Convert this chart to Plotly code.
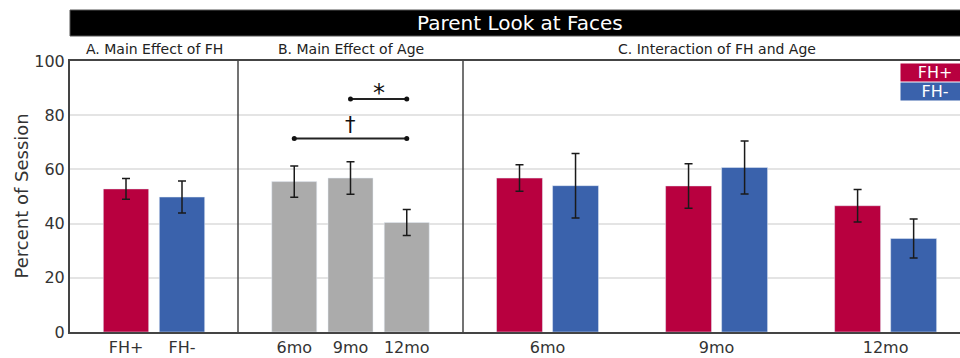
import plotly.graph_objects as go

# ---- data ----
fh_groups = ["FH+", "FH-"]
fh_means = [52.8, 49.8]
fh_errs = [3.8, 5.9]

ages = ["6mo", "9mo", "12mo"]
age_means = [55.5, 56.8, 40.4]
age_errs = [5.8, 6.0, 4.8]

fhpos_means = [56.8, 53.9, 46.6]
fhpos_errs = [4.9, 8.2, 6.0]
fhneg_means = [54.0, 60.7, 34.5]
fhneg_errs = [11.9, 9.8, 7.2]

sig_dagger = ["6mo", "12mo"]
sig_dagger_y = 71.4
sig_star = ["9mo", "12mo"]
sig_star_y = 86.0

panel_titles = ["A. Main Effect of FH", "B. Main Effect of Age", "C. Interaction of FH and Age"]
main_title = "Parent Look at Faces"
y_title = "Percent of Session"

RED = "#B8003F"
BLUE = "#3A62AC"
GRAY = "#ABABAB"
FONT = "DejaVu Sans"
TXT = "#333333"
LINE = "#444444"

err_style = dict(type="data", color="#1a1a1a", thickness=1.5, width=4)
bar_line = dict(color="#E5ECF6", width=0.5)

fig = go.Figure()

# Panel A
fig.add_trace(go.Bar(x=fh_groups, y=fh_means, width=0.81,
                     marker=dict(color=[RED, BLUE], line=bar_line),
                     error_y=dict(array=fh_errs, **err_style),
                     xaxis="x", yaxis="y", showlegend=False))
# Panel B
fig.add_trace(go.Bar(x=ages, y=age_means, width=0.8,
                     marker=dict(color=GRAY, line=bar_line),
                     error_y=dict(array=age_errs, **err_style),
                     xaxis="x2", yaxis="y", showlegend=False))
# significance brackets
fig.add_trace(go.Scatter(x=sig_dagger, y=[sig_dagger_y] * 2, mode="lines+markers",
                         line=dict(color="#222", width=2), marker=dict(color="#111", size=5),
                         xaxis="x2", yaxis="y", showlegend=False, hoverinfo="skip"))
fig.add_trace(go.Scatter(x=sig_star, y=[sig_star_y] * 2, mode="lines+markers",
                         line=dict(color="#222", width=2), marker=dict(color="#111", size=5),
                         xaxis="x2", yaxis="y", showlegend=False, hoverinfo="skip"))
# Panel C
fig.add_trace(go.Bar(x=ages, y=fhpos_means, name="FH+",
                     marker=dict(color=RED, line=bar_line),
                     error_y=dict(array=fhpos_errs, **err_style),
                     xaxis="x3", yaxis="y", showlegend=False))
fig.add_trace(go.Bar(x=ages, y=fhneg_means, name="FH-",
                     marker=dict(color=BLUE, line=bar_line),
                     error_y=dict(array=fhneg_errs, **err_style),
                     xaxis="x3", yaxis="y", showlegend=False))

W, H = 960, 358
ml, mt, mb = 70, 61, 26
pw = W - ml
ph = H - mt - mb
def px2x(px):
    return (px - ml) / pw
def px2y(py):
    return (H - mb - py) / ph

dA = [0, px2x(238)]
dB = [px2x(238), px2x(463)]
dC = [px2x(463), 1]

xcommon = dict(showline=True, linecolor=LINE, linewidth=2, mirror=True, ticks="",
               showgrid=False, zeroline=False, type="category",
               tickfont=dict(family=FONT, size=16, color=TXT), fixedrange=True)

fig.update_layout(
    width=W, height=H,
    margin=dict(l=ml, r=0, t=mt, b=mb, pad=0),
    paper_bgcolor="white", plot_bgcolor="white",
    barmode="group", bargap=0.337, bargroupgap=0.18,
    font=dict(family=FONT, color=TXT),
    xaxis=dict(domain=dA, range=[-1, 2], anchor="y", **xcommon),
    xaxis2=dict(domain=dB, range=[-1, 3], anchor="y", **xcommon),
    xaxis3=dict(domain=dC, range=[-0.5, 2.44], anchor="y", **xcommon),
    yaxis=dict(range=[0, 100], dtick=20, anchor="x", showline=True, linecolor=LINE,
               linewidth=2, ticks="", showgrid=True, gridcolor="#e4e4e4", gridwidth=1.5,
               zeroline=False, tickfont=dict(family=FONT, size=16, color=TXT)),
)

shapes = [
    # title bar
    dict(type="rect", xref="paper", yref="paper", x0=0, x1=1.05,
         y0=px2y(36), y1=px2y(10), fillcolor="black", line=dict(color="#555", width=1), layer="above"),
    # panel dividers
    dict(type="line", xref="x2 domain", yref="y", x0=0, x1=0, y0=0, y1=100,
         line=dict(color=LINE, width=1.5)),
    dict(type="line", xref="x3 domain", yref="y", x0=0, x1=0, y0=0, y1=100,
         line=dict(color=LINE, width=1.5)),
]

annotations = [
    dict(text=main_title, xref="paper", yref="paper", x=px2x(520), y=px2y(23),
         showarrow=False, font=dict(family=FONT, size=20, color="white"),
         xanchor="center", yanchor="middle"),
    dict(text=panel_titles[0], xref="x domain", yref="paper", x=0.5, y=px2y(49),
         showarrow=False, font=dict(family=FONT, size=14, color="#222"), yanchor="middle"),
    dict(text=panel_titles[1], xref="x2 domain", yref="paper", x=0.5, y=px2y(49),
         showarrow=False, font=dict(family=FONT, size=14, color="#222"), yanchor="middle"),
    dict(text=panel_titles[2], xref="x3", yref="paper", x=1, y=px2y(49),
         showarrow=False, font=dict(family=FONT, size=14, color="#222"), yanchor="middle"),
    dict(text=y_title, xref="paper", yref="paper", x=px2x(21), y=0.5, textangle=-90,
         showarrow=False, font=dict(family=FONT, size=18, color=TXT),
         xanchor="center", yanchor="middle"),
    # significance symbols
    dict(text="†", xref="x2", yref="y", x=1, y=sig_dagger_y, yshift=0,
         showarrow=False, font=dict(family=FONT, size=21, color="#111"), yanchor="bottom"),
    dict(text="*", xref="x2", yref="y", x=1.5, y=sig_star_y, yshift=-10,
         showarrow=False, font=dict(family=FONT, size=24, color="#111"), yanchor="bottom"),
    # legend boxes
    dict(text="FH+", xref="paper", yref="paper", x=px2x(935), y=px2y(72.5),
         showarrow=False, bgcolor=RED, width=66, height=15, borderpad=1,
         font=dict(family=FONT, size=16, color="white"), xanchor="center", yanchor="middle"),
    dict(text="FH-", xref="paper", yref="paper", x=px2x(935), y=px2y(91.5),
         showarrow=False, bgcolor=BLUE, width=66, height=15, borderpad=1,
         font=dict(family=FONT, size=16, color="white"), xanchor="center", yanchor="middle"),
]

fig.update_layout(shapes=shapes, annotations=annotations)
fig.write_html("out.html")
